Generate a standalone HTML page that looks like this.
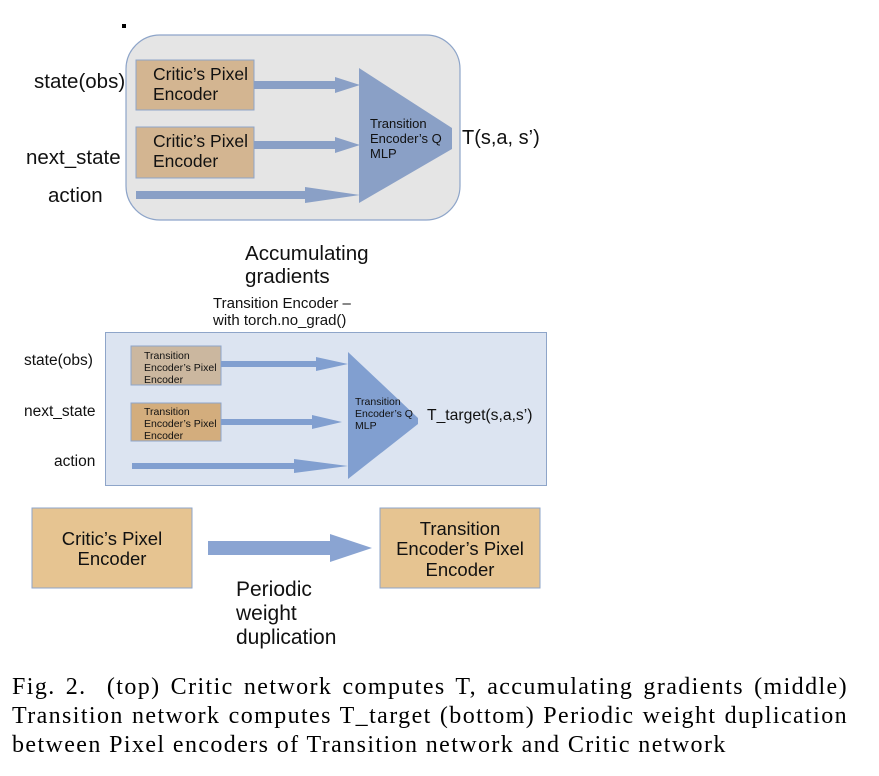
<!DOCTYPE html>
<html><head><meta charset="utf-8"><style>
html,body{margin:0;padding:0;background:#fff;width:879px;height:776px;overflow:hidden}
svg{position:absolute;left:0;top:0}
text{font-family:"Liberation Sans",sans-serif;fill:#111}
.cap{position:absolute;left:12px;top:673px;width:836px;font-family:"Liberation Serif",serif;font-size:24px;line-height:29px;color:#000;letter-spacing:1.4px}
.cap div{text-align:justify;text-align-last:justify;white-space:nowrap}
.cap div.l{text-align-last:left}
</style></head><body>
<svg width="879" height="776" viewBox="0 0 879 776">
<rect x="122" y="24" width="4" height="4" fill="#000"/>
<rect x="126" y="35" width="334" height="185" rx="34" fill="#e5e5e5" stroke="#8ea5c9" stroke-width="1.2"/>
<rect x="136" y="60" width="118" height="50" fill="#d3b591" stroke="#8ea5c9"/>
<rect x="136" y="127" width="118" height="51" fill="#d3b591" stroke="#8ea5c9"/>
<text font-size="17.5"><tspan x="153" y="80">Critic’s Pixel</tspan><tspan x="153" y="100">Encoder</tspan></text>
<text font-size="17.5"><tspan x="153" y="147">Critic’s Pixel</tspan><tspan x="153" y="167">Encoder</tspan></text>
<g fill="#8aa0c6">
<polygon points="254,81 335,81 335,77 360,85 335,93 335,89 254,89"/>
<polygon points="254,141 335,141 335,137 360,145 335,153 335,149 254,149"/>
<polygon points="136,191 305,191 305,187 360,195 305,203 305,199 136,199"/>
<polygon points="359,68 452,128 452,149 359,203"/>
</g>
<text font-size="13"><tspan x="370" y="128">Transition</tspan><tspan x="370" y="143">Encoder’s Q</tspan><tspan x="370" y="158">MLP</tspan></text>
<text x="462" y="144" font-size="20">T(s,a, s’)</text>
<text x="34" y="88" font-size="20.5">state(obs)</text>
<text x="26" y="164" font-size="20.5">next_state</text>
<text x="48" y="202" font-size="20.5">action</text>
<text font-size="20.6"><tspan x="245" y="260">Accumulating</tspan><tspan x="245" y="283">gradients</tspan></text>
<text font-size="15"><tspan x="213" y="308">Transition Encoder –</tspan><tspan x="213" y="325">with torch.no_grad()</tspan></text>
<rect x="105.5" y="332.5" width="441" height="153" fill="#dce4f1" stroke="#8ea5c9"/>
<rect x="131" y="346" width="90" height="39" fill="#cbb79f" stroke="#8ea5c9"/>
<rect x="131" y="403" width="90" height="38" fill="#d3ad7d" stroke="#8ea5c9"/>
<text font-size="10.5" fill="#222"><tspan x="144" y="359">Transition</tspan><tspan x="144" y="371">Encoder’s Pixel</tspan><tspan x="144" y="383">Encoder</tspan></text>
<text font-size="10.5" fill="#222"><tspan x="144" y="415">Transition</tspan><tspan x="144" y="427">Encoder’s Pixel</tspan><tspan x="144" y="439">Encoder</tspan></text>
<g fill="#819fd0">
<polygon points="221,361 316,361 316,357 348,364 316,371 316,367 221,367"/>
<polygon points="221,419 312,419 312,415 342,422 312,429 312,425 221,425"/>
<polygon points="132,463 294,463 294,459 348,466 294,473 294,469 132,469"/>
<polygon points="348,352 418,418 418,424 348,479"/>
</g>
<text font-size="10.5" fill="#222"><tspan x="355" y="405">Transition</tspan><tspan x="355" y="417">Encoder’s Q</tspan><tspan x="355" y="429">MLP</tspan></text>
<text x="427" y="420" font-size="15.7">T_target(s,a,s’)</text>
<text x="24" y="365" font-size="15.5">state(obs)</text>
<text x="24" y="416" font-size="15.5">next_state</text>
<text x="54" y="466" font-size="15.5">action</text>
<rect x="32" y="508" width="160" height="80" fill="#e6c491" stroke="#8ea5c9"/>
<text font-size="18.5" text-anchor="middle"><tspan x="112" y="545">Critic’s Pixel</tspan><tspan x="112" y="565">Encoder</tspan></text>
<rect x="380" y="508" width="160" height="80" fill="#e6c491" stroke="#8ea5c9"/>
<text font-size="18.5" text-anchor="middle"><tspan x="460" y="535">Transition</tspan><tspan x="460" y="555">Encoder’s Pixel</tspan><tspan x="460" y="576">Encoder</tspan></text>
<polygon fill="#8aa4d2" points="208,541 330,541 330,534 372,548 330,562 330,555 208,555"/>
<text font-size="21"><tspan x="236" y="596">Periodic</tspan><tspan x="236" y="620">weight</tspan><tspan x="236" y="644">duplication</tspan></text>
</svg>
<div class="cap">
<div>Fig. 2.&nbsp; (top) Critic network computes T, accumulating gradients (middle)</div>
<div>Transition network computes T_target (bottom) Periodic weight duplication</div>
<div class="l">between Pixel encoders of Transition network and Critic network</div>
</div>
</body></html>
